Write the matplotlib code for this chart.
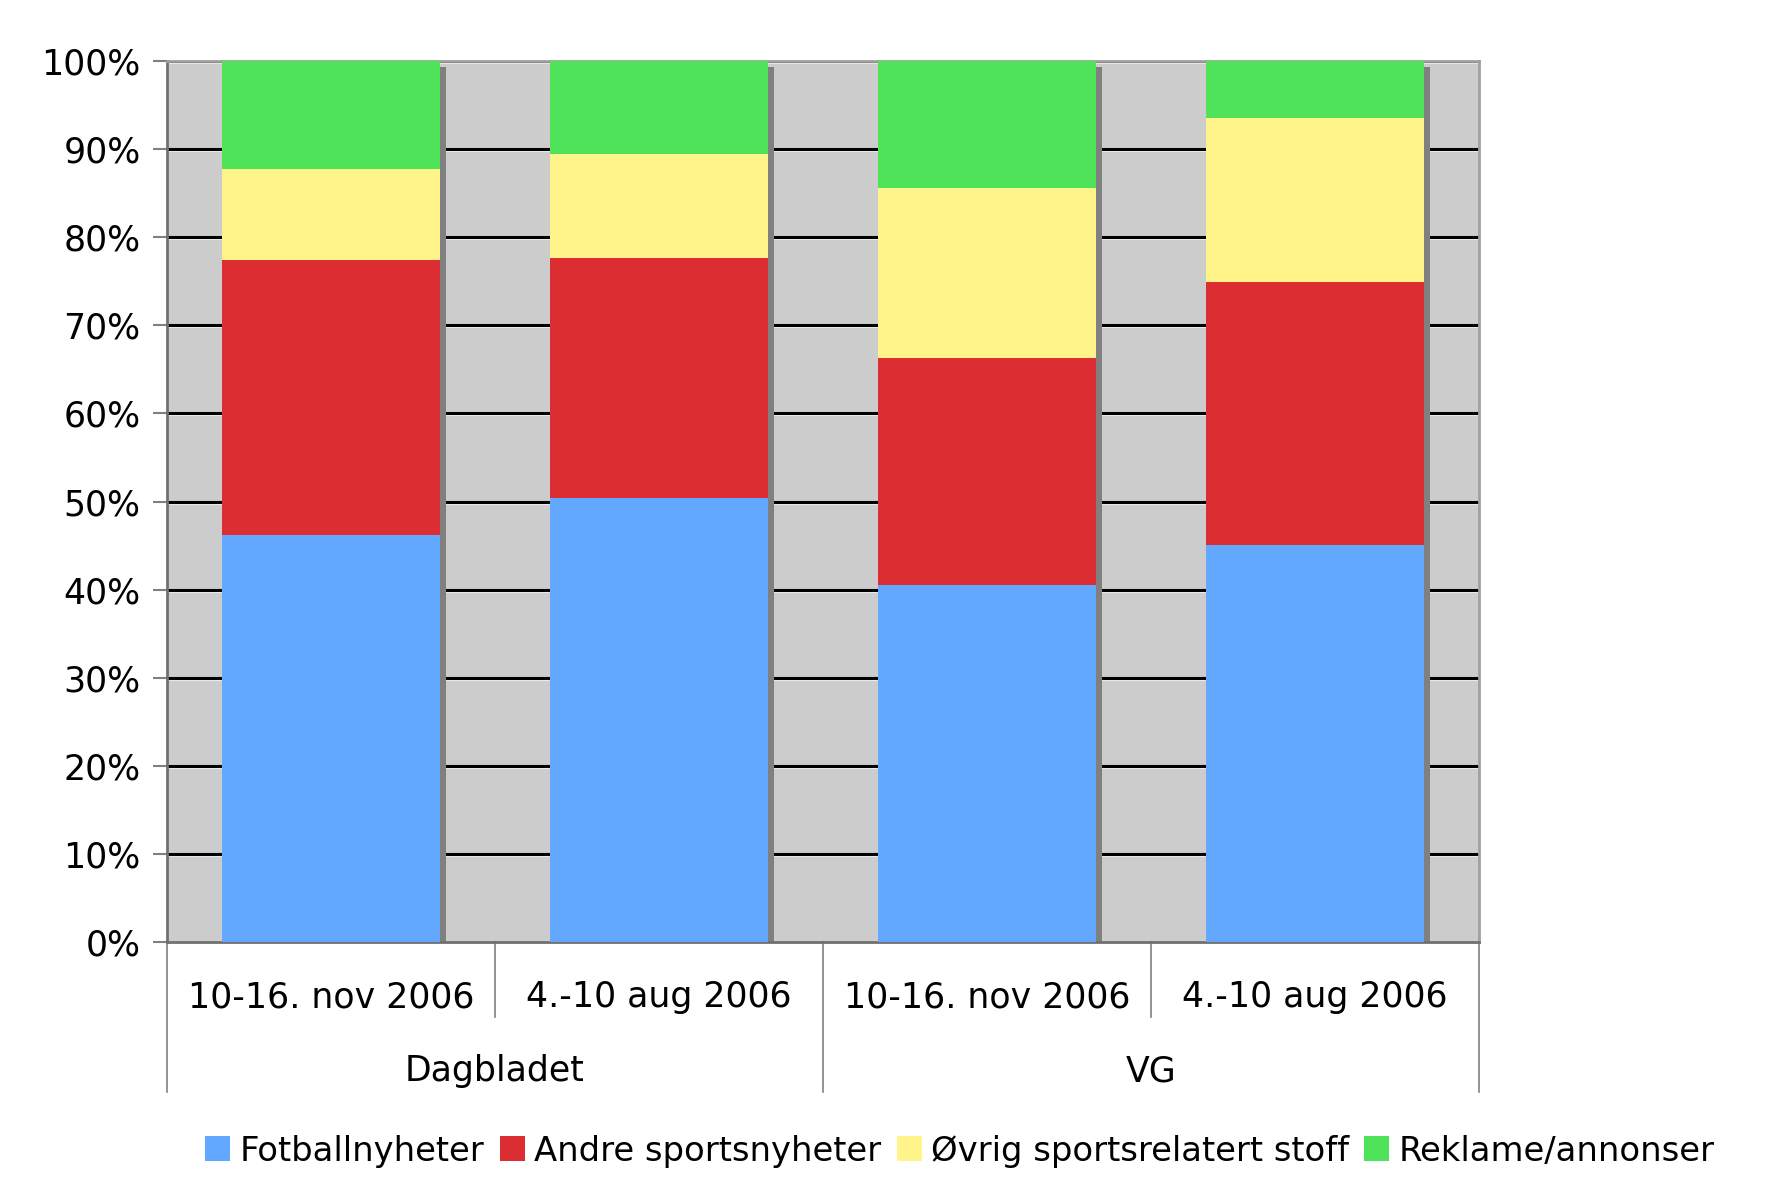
import matplotlib
matplotlib.use("Agg")
import matplotlib.pyplot as plt
import matplotlib.transforms as mtransforms
import numpy as np

plt.rcParams["font.family"] = ["DejaVu Sans"]

# data (percent of sports coverage)
periods = ["10-16. nov 2006", "4.-10 aug 2006", "10-16. nov 2006", "4.-10 aug 2006"]
papers = ["Dagbladet", "VG"]
series_names = ["Fotballnyheter", "Andre sportsnyheter", "Øvrig sportsrelatert stoff", "Reklame/annonser"]
fotball = [46.2, 50.4, 40.5, 45.1]
andre = [31.2, 27.2, 25.8, 29.8]
ovrig = [10.3, 11.8, 19.3, 18.6]
reklame = [12.3, 10.6, 14.4, 6.5]
colors = ["#62A8FE", "#DC2D32", "#FFF48A", "#4FE35A"]

W, H = 1772, 1191
fig = plt.figure(figsize=(W / 100, H / 100), dpi=100)
left, right, top, bottom = 167, 1479, 61, 942
ax = fig.add_axes([left / W, 1 - bottom / H, (right - left) / W, (bottom - top) / H])
ax.set_facecolor("#CCCCCC")

x = np.arange(len(periods))
width = 0.665
xlim = (-0.5, len(periods) - 0.5)
ax.set_xlim(*xlim)
ax.set_ylim(0, 100)

# gridlines with light line underneath
ticks = np.arange(0, 101, 10)
light = mtransforms.offset_copy(ax.transData, fig=fig, x=0, y=-2, units="dots")
for t in ticks[1:]:
    ax.plot(xlim, [t, t], color="#EEEEEE", lw=1.5, zorder=1, transform=light)
    ax.plot(xlim, [t, t], color="black", lw=2.2, zorder=1.2)

# bar shadow
total = np.array(fotball) + np.array(andre) + np.array(ovrig) + np.array(reklame)
shadow = mtransforms.offset_copy(ax.transData, fig=fig, x=6, y=-6, units="dots")
ax.bar(x, total, width, color="#808080", zorder=2, transform=shadow)

bottoms = np.zeros(len(periods))
for name, vals, c in zip(series_names, [fotball, andre, ovrig, reklame], colors):
    ax.bar(x, vals, width, bottom=bottoms, color=c, label=name, zorder=3, linewidth=0)
    bottoms += np.array(vals)

ax.set_xlim(*xlim)
ax.set_yticks(ticks)
ax.set_yticklabels([f"{t}%" for t in ticks], fontsize=25)
ax.tick_params(axis="y", length=10, width=1.5, color="#808080", pad=9)
ax.tick_params(axis="x", length=0, labelbottom=False)

for s in ["left", "bottom"]:
    ax.spines[s].set_color("#707070")
    ax.spines[s].set_linewidth(2)
for s in ["top", "right"]:
    ax.spines[s].set_color("#A0A0A0")
    ax.spines[s].set_linewidth(2)

# two-level category axis
ah = bottom - top
xt = ax.get_xaxis_transform()
for i, lab in enumerate(periods):
    ax.text(x[i], -55 / ah, lab, transform=xt, ha="center", va="center", fontsize=25)
for i in range(len(periods) + 1):
    xe = i - 0.5
    depth = 150 if i % 2 == 0 else 75
    ax.plot([xe, xe], [0, -depth / ah], transform=xt, color="#808080", lw=1.2, clip_on=False)
for j, p in enumerate(papers):
    ax.text(2 * j + 0.5, -129 / ah, p, transform=xt, ha="center", va="center", fontsize=25)

fig.legend(loc="center", bbox_to_anchor=(960 / W, 1 - 1151 / H), ncol=4, frameon=False,
           fontsize=24.4, handlelength=0.74, handleheight=0.74, handletextpad=0.28,
           columnspacing=0.45, borderaxespad=0)

fig.savefig("out.png", dpi=100)
